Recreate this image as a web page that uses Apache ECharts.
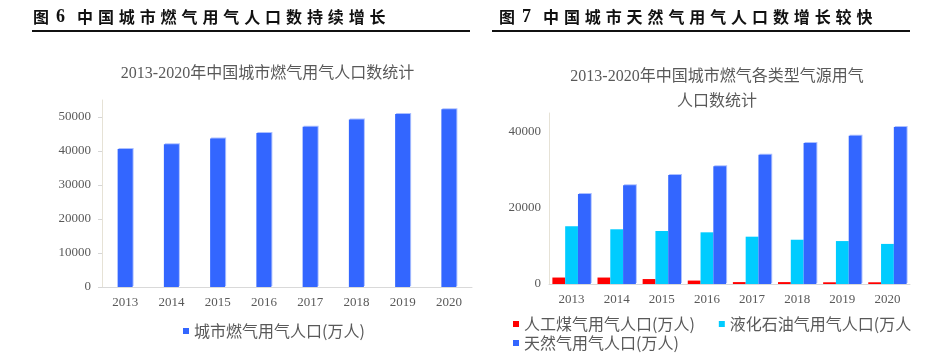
<!DOCTYPE html>
<html><head><meta charset="utf-8">
<script src="https://cdn.jsdelivr.net/npm/echarts@6/dist/echarts.min.js"></script>
<style>html,body{margin:0;padding:0;background:#fff}#c{width:935px;height:356px}</style>
</head><body><div id="c"></div>
<script>
const years = ['2013','2014','2015','2016','2017','2018','2019','2020'];
const cityGasPop = [40600, 42000, 43700, 45300, 47100, 49300, 50900, 52300];
const artificialGasPop = [1700, 1700, 1300, 900, 500, 500, 450, 450];
const lpgPop = [15200, 14400, 13950, 13600, 12450, 11650, 11300, 10550];
const naturalGasPop = [23700, 26000, 28700, 31000, 34000, 37100, 39000, 41300];
const leftYTicks = [0, 10000, 20000, 30000, 40000, 50000];
const rightYTicks = [0, 20000, 40000];

const headerLeft = '图6中国城市燃气用气人口数持续增长';
const headerRight = '图7中国城市天然气用气人口数增长较快';
const subLeft = '2013-2020年中国城市燃气用气人口数统计';
const subRight1 = '2013-2020年中国城市燃气各类型气源用气';
const subRight2 = '人口数统计';
const nameCity = '城市燃气用气人口(万人)';
const nameArt = '人工煤气用气人口(万人)';
const nameLpg = '液化石油气用气人口(万人)';
const nameNat = '天然气用气人口(万人)';

function spaced(str){
  const chars = Array.from(str);
  return chars.map((ch,i)=>{
    const k = i===0 ? 'a' : (i===1 ? 'b' : 'c');
    return '{' + k + '|' + ch + '}';
  }).join('');
}
const hdrFont = {fontSize:16, fontWeight:'bold', fontFamily:'"Noto Sans CJK SC"', fill:'#111'};
const hdrRich = {
  a: Object.assign({width:23}, hdrFont),
  b: {width:21, fontFamily:'"Liberation Serif"', fontSize:18, fontWeight:'bold', fill:'#111'},
  c: Object.assign({width:20.9}, hdrFont)
};

const serif = '"Liberation Serif","Noto Sans CJK SC"';
const labelColor = '#595959';
const barShadow = {shadowColor:'rgba(150,175,255,0.8)', shadowOffsetX:1, shadowOffsetY:-1, shadowBlur:0};
const plain = v => String(v);
const legendText = {fontSize:16, color:labelColor, fontFamily:'"Noto Sans CJK SC"', lineHeight:18};

const chart = echarts.init(document.getElementById('c'));
chart.setOption({
  animation:false,
  backgroundColor:'#fff',
  graphic:[
    {type:'text', x:33, y:17, style:{text:spaced(headerLeft), rich:hdrRich, verticalAlign:'middle', font:'bold 16px "Noto Sans CJK SC"'}},
    {type:'line', shape:{x1:32, y1:31, x2:470, y2:31}, style:{stroke:'#111', lineWidth:2}},
    {type:'text', x:499, y:17, style:{text:spaced(headerRight), rich:hdrRich, verticalAlign:'middle', font:'bold 16px "Noto Sans CJK SC"'}},
    {type:'line', shape:{x1:492, y1:31, x2:910, y2:31}, style:{stroke:'#111', lineWidth:2}},
    {type:'text', x:267.5, y:74, style:{text:subLeft, fill:labelColor, font:'16px ' + serif, align:'center', verticalAlign:'middle'}},
    {type:'text', x:717, y:76.5, style:{text:subRight1, fill:labelColor, font:'16px ' + serif, align:'center', verticalAlign:'middle'}},
    {type:'text', x:717, y:101.5, style:{text:subRight2, fill:labelColor, font:'16px ' + serif, align:'center', verticalAlign:'middle'}}
  ],
  legend:[
    {data:[nameCity], left:183, top:322, padding:0, itemWidth:6, itemHeight:6, icon:'rect', textStyle:legendText},
    {data:[nameArt, nameLpg], left:513, top:315, padding:0, itemWidth:6, itemHeight:6, icon:'rect', itemGap:24,
     formatter:function(n){ return n === nameLpg ? n.slice(0, n.length-1) : n; },
     textStyle:legendText},
    {data:[nameNat], left:513, top:334, padding:0, itemWidth:6, itemHeight:6, icon:'rect', textStyle:legendText}
  ],
  grid:[
    {left:102, right:463, top:100, bottom:69},
    {left:549, right:25, top:113, bottom:72}
  ],
  xAxis:[
    {type:'category', gridIndex:0, data:years,
     axisLine:{lineStyle:{color:'#d9d9d9'}}, axisTick:{show:false},
     axisLabel:{color:labelColor, fontFamily:serif, fontSize:13, margin:9}},
    {type:'category', gridIndex:1, data:years,
     axisLine:{lineStyle:{color:'#d9d9d9'}}, axisTick:{show:false},
     axisLabel:{color:labelColor, fontFamily:serif, fontSize:13, margin:9}}
  ],
  yAxis:[
    {type:'value', gridIndex:0, min:0, max:55000, interval:10000, splitLine:{show:false},
     axisLine:{show:true, lineStyle:{color:'#e6e2d6'}},
     axisTick:{show:true, length:4, lineStyle:{color:'#d6d6d6'}, customValues:leftYTicks},
     axisLabel:{color:labelColor, fontFamily:serif, fontSize:13, margin:11, customValues:leftYTicks, formatter:plain}},
    {type:'value', gridIndex:1, min:0, max:45000, interval:20000, splitLine:{show:false},
     axisLine:{show:true, lineStyle:{color:'#e6e2d6'}},
     axisTick:{show:false},
     axisLabel:{color:labelColor, fontFamily:serif, fontSize:13, margin:8, customValues:rightYTicks, formatter:plain}}
  ],
  series:[
    {name:nameCity, type:'bar', xAxisIndex:0, yAxisIndex:0, data:cityGasPop, barWidth:15,
     itemStyle:Object.assign({color:'#3366FF'}, barShadow)},
    {name:nameArt, type:'bar', xAxisIndex:1, yAxisIndex:1, data:artificialGasPop, barGap:'0%', barCategoryGap:'15%',
     itemStyle:{color:'#FF0000'}},
    {name:nameLpg, type:'bar', xAxisIndex:1, yAxisIndex:1, data:lpgPop, barGap:'0%', barCategoryGap:'15%',
     itemStyle:{color:'#00CCFF'}},
    {name:nameNat, type:'bar', xAxisIndex:1, yAxisIndex:1, data:naturalGasPop, barGap:'0%', barCategoryGap:'15%',
     itemStyle:Object.assign({color:'#3366FF'}, barShadow)}
  ]
});
</script></body></html>
